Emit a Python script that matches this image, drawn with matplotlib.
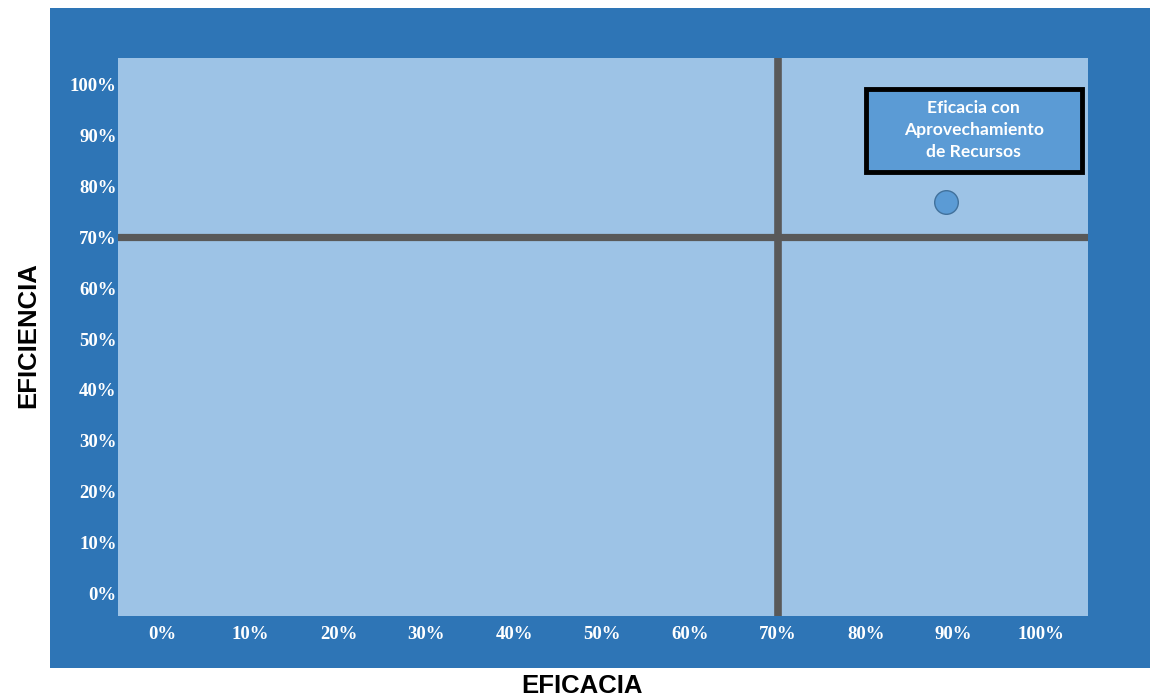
import matplotlib
matplotlib.use("Agg")
import matplotlib.pyplot as plt
from matplotlib.patches import Rectangle

# --- data ---
eficacia = [0.891]
eficiencia = [0.77]
meta_x = 0.70
meta_y = 0.70
ticks = [0.0, 0.1, 0.2, 0.3, 0.4, 0.5, 0.6, 0.7, 0.8, 0.9, 1.0]
tick_labels = ["0%", "10%", "20%", "30%", "40%", "50%", "60%", "70%", "80%", "90%", "100%"]
box_text = "Eficacia con\nAprovechamiento\nde Recursos"

dark_blue = "#2E75B6"
light_blue = "#9DC3E6"
mid_blue = "#5B9BD5"
grey = "#595959"

fig = plt.figure(figsize=(11.5, 6.98), dpi=100, facecolor="white")

# outer chart area (behind the axes)
fig.add_artist(Rectangle((50 / 1150, 30 / 698), 1100 / 1150, 660 / 698,
                         transform=fig.transFigure, facecolor=dark_blue,
                         edgecolor="none", zorder=-1))

ax = fig.add_axes([118 / 1150, 82 / 698, 970 / 1150, 558 / 698])
ax.set_facecolor(light_blue)
ax.set_xlim(-0.051, 1.053)
ax.set_ylim(-0.045, 1.053)

# quadrant lines
ax.axvline(meta_x, color=grey, lw=5.5, zorder=2)
ax.axhline(meta_y, color=grey, lw=5.2, zorder=2)

# point
ax.plot(eficacia, eficiencia, "o", ms=17, mfc=mid_blue, mec="#41719C", mew=1.0, zorder=4)

# label box
ax.add_patch(Rectangle((0.800, 0.829), 0.246, 0.163, facecolor=mid_blue,
                       edgecolor="black", lw=3.5, zorder=3))
ax.text(0.923, 0.912, box_text, ha="center", va="center", color="white",
        fontsize=12.6, fontweight="bold", family="Lato", linespacing=1.45, zorder=5)

ax.set_xticks(ticks)
ax.set_xticklabels(tick_labels)
ax.set_yticks(ticks)
ax.set_yticklabels(tick_labels)
for lab in ax.get_xticklabels() + ax.get_yticklabels():
    lab.set_family("Liberation Serif")
    lab.set_fontweight("bold")
    lab.set_fontsize(13.5)
    lab.set_color("white")
ax.tick_params(axis="both", length=0)
ax.tick_params(axis="x", pad=7)
ax.tick_params(axis="y", pad=1)
for s in ax.spines.values():
    s.set_visible(False)

fig.text(28 / 1150, 1 - 335 / 698, "EFICIENCIA", rotation=90, ha="center", va="center",
         fontsize=18.5, fontweight="bold", family="Liberation Sans", color="black")
fig.text(582 / 1150, 1 - 686 / 698, "EFICACIA", ha="center", va="center",
         fontsize=18.5, fontweight="bold", family="Liberation Sans", color="black")

fig.savefig("out.png", dpi=100, facecolor="white")
